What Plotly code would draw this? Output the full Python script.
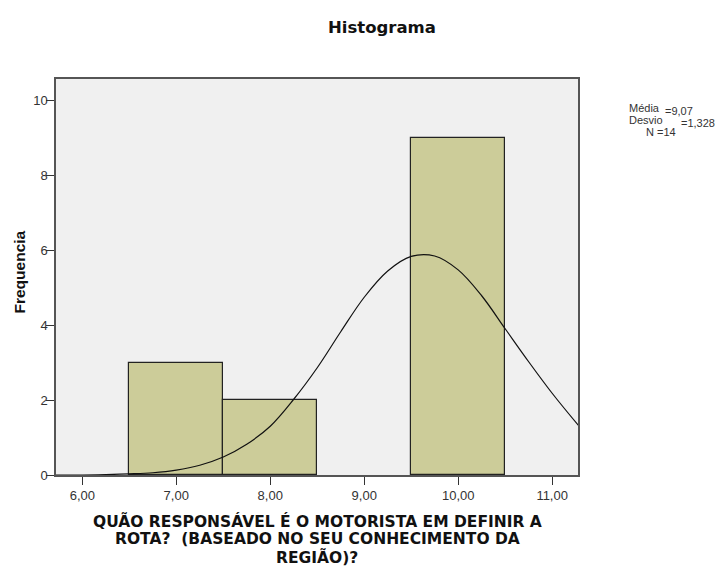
import plotly.graph_objects as go

# ---- data ----
bin_centers = [7.0, 8.0, 10.0]
bin_counts = [3, 2, 9]
bin_width = 1.0

curve_x = [5.72, 6.0, 6.25, 6.5, 6.75, 7.0, 7.25, 7.5, 7.75, 8.0, 8.25, 8.5,
           8.75, 9.0, 9.25, 9.5, 9.75, 10.0, 10.25, 10.5, 10.75, 11.0, 11.28]
curve_y = [0.0, 0.0, 0.01, 0.03, 0.06, 0.13, 0.26, 0.48, 0.82, 1.30, 2.02, 2.86,
           3.82, 4.74, 5.44, 5.83, 5.84, 5.47, 4.78, 3.90, 3.02, 2.18, 1.32]

x_tick_vals = [6, 7, 8, 9, 10, 11]
x_tick_text = ["6,00", "7,00", "8,00", "9,00", "10,00", "11,00"]
y_tick_vals = [0, 2, 4, 6, 8, 10]

stat_labels = ["Média", "Desvio", "N"]
stat_values = ["9,07", "1,328", "14"]

title_text = "Histograma"
y_title = "Frequencia"
x_title_lines = ["QUÃO RESPONSÁVEL É O MOTORISTA EM DEFINIR A",
                 "ROTA?  (BASEADO NO SEU CONHECIMENTO DA",
                 "REGIÃO)?"]

# ---- layout geometry (window pixels; page body has an 8px margin) ----
OFF = 8
PLOT_L, PLOT_R, PLOT_T, PLOT_B = 56, 578, 79, 475
W, H = 724 - OFF, 567 - OFF
L = PLOT_L - OFF
T = PLOT_T - OFF
R = W - (PLOT_R - OFF)
B = H - (PLOT_B - OFF)
PW = PLOT_R - PLOT_L
PH = PLOT_B - PLOT_T


def fx(px):
    return (px - PLOT_L) / PW


def fy(py):
    return (PLOT_B - py) / PH


fig = go.Figure()
fig.add_trace(go.Bar(
    x=bin_centers, y=bin_counts, width=[bin_width] * len(bin_centers),
    marker=dict(color="#cccc99", line=dict(color="#222222", width=1.2)),
    showlegend=False, hoverinfo="skip"))
fig.add_trace(go.Scatter(
    x=curve_x, y=curve_y, mode="lines",
    line=dict(color="#111111", width=1.2, shape="spline", smoothing=1.0),
    showlegend=False, hoverinfo="skip"))

tick_font = dict(family="Liberation Sans, Arial", size=13, color="#333")
fig.update_layout(
    width=W, height=H,
    margin=dict(l=L, r=R, t=T, b=B, pad=0),
    paper_bgcolor="white", plot_bgcolor="#f0f0f0",
    bargap=0,
    xaxis=dict(range=[5.72, 11.275], tickvals=x_tick_vals, ticktext=x_tick_text,
               ticks="outside", ticklen=8, tickcolor="#333", tickwidth=1,
               showline=True, linecolor="#555", linewidth=1.5, mirror=True,
               showgrid=False, zeroline=False, tickfont=tick_font),
    yaxis=dict(range=[0, 10.56], tickvals=y_tick_vals,
               ticks="outside", ticklen=8, tickcolor="#333", tickwidth=1,
               ticklabelstandoff=-4,
               showline=True, linecolor="#555", linewidth=1.5, mirror=True,
               showgrid=False, zeroline=False, tickfont=tick_font),
)

ann = []
ann.append(dict(text="<b>%s</b>" % title_text, x=fx(382), y=fy(27), xref="paper", yref="paper",
                xanchor="center", yanchor="middle", showarrow=False,
                font=dict(family="DejaVu Sans", size=16.5, color="#111")))
ann.append(dict(text="<b>%s</b>" % y_title, x=fx(18.5), y=fy(272), xref="paper", yref="paper",
                xanchor="center", yanchor="middle", textangle=-90, showarrow=False,
                font=dict(family="Liberation Sans, Arial", size=15.5, color="#111")))
for i, line in enumerate(x_title_lines):
    ann.append(dict(text="<b>%s</b>" % line, x=fx(317), y=fy(521 + 18 * i),
                    xref="paper", yref="paper", xanchor="center", yanchor="middle",
                    showarrow=False,
                    font=dict(family="DejaVu Sans", size=15.5, color="#111")))

# stats text at the right: (label left x, label y, value right x, value y)
stat_pos = [(628, 108, 694, 111), (628, 120, 716, 123), (645, 132, None, None)]
stat_font = dict(family="Liberation Sans, Arial", size=11, color="#333")
for (lab, val), (lx, ly, vx, vy) in zip(zip(stat_labels, stat_values), stat_pos):
    if vx is None:
        ann.append(dict(text="%s =%s" % (lab, val), x=fx(lx), y=fy(ly), xref="paper", yref="paper",
                        xanchor="left", yanchor="middle", showarrow=False, font=stat_font,
                        borderpad=0))
    else:
        ann.append(dict(text=lab, x=fx(lx), y=fy(ly), xref="paper", yref="paper",
                        xanchor="left", yanchor="middle", showarrow=False, font=stat_font,
                        borderpad=0))
        ann.append(dict(text="=" + val, x=fx(vx), y=fy(vy), xref="paper", yref="paper",
                        xanchor="right", yanchor="middle", showarrow=False, font=stat_font,
                        borderpad=0))

fig.update_layout(annotations=ann)
fig.write_html("out.html")
